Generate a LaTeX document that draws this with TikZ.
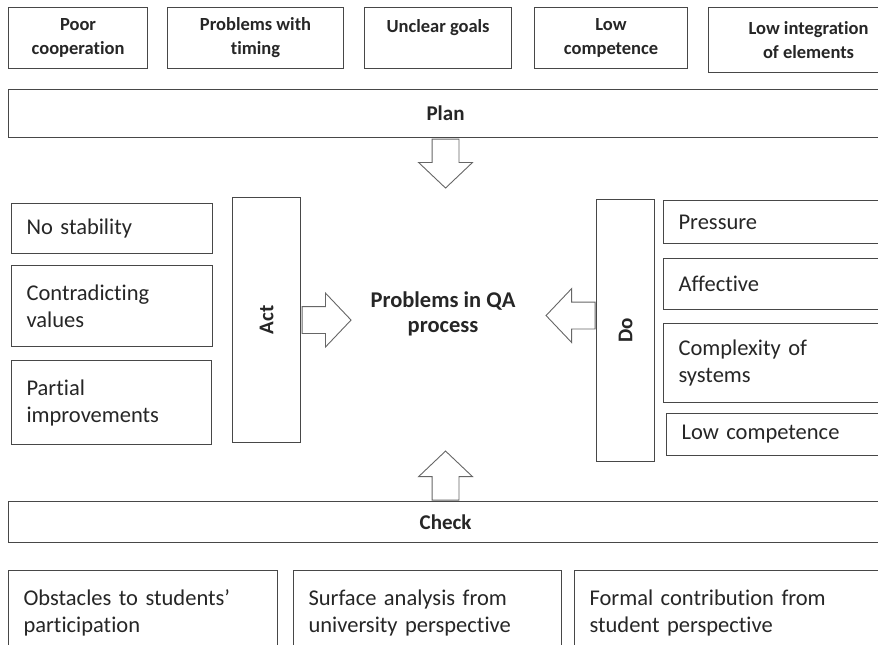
\documentclass[tikz,border=0pt]{standalone}
\usepackage{fontspec}
\setmainfont{Carlito}[Ligatures=NoCommon]
\usetikzlibrary{shapes.arrows}

\tikzset{
  boxline/.style={draw=black!72, line width=1.1pt, fill=white, text=black!85, inner sep=0pt, anchor=north west},
  cause/.style={boxline, align=center, minimum height=61, font=\fontsize{18.5}{24}\selectfont\bfseries},
  phase/.style={boxline, font=\fontsize{21}{25}\selectfont\bfseries},
  issue/.style 2 args={boxline, align=left, text width=#1, minimum height=#2, inner xsep=15pt, font=\fontsize{22.5}{27}\selectfont},
  blockarrow/.style={single arrow, draw=black!60, line width=0.9pt, fill=white, inner sep=13pt,
    single arrow head extend=13.5pt, single arrow tip angle=93, minimum height=49pt, anchor=tail}
}

\begin{document}
\begin{tikzpicture}[x=1pt,y=-1pt]
\useasboundingbox (0,0) rectangle (878,645);
\clip (0,0) rectangle (878,645);

% causes on top
\node[cause, minimum width=139] (poor) at (8,7) {Poor\\cooperation};
\node[cause, minimum width=176] (timing) at (167,7) {Problems with\\timing};
\node[cause, minimum width=147] (goals) at (364,7) {Unclear goals\\\mbox{}};
\node[cause, minimum width=153] (lowcomp) at (534,7) {Low\\competence};
\node[cause, minimum width=200, minimum height=65] (integr) at (708,7) {Low integration\\of elements};

% PDCA phases
\node[phase, minimum width=874, minimum height=48] (plan) at (8,89) {Plan};
\node[phase, minimum width=68, minimum height=245] (act) at (232,197) {\rotatebox{90}{Act}};
\node[phase, minimum width=58, minimum height=262] (do) at (596,199) {\rotatebox{90}{Do}};
\node[phase, minimum width=874, minimum height=41] (check) at (8,501) {Check};

% centre
\node[font=\fontsize{22.5}{25}\selectfont\bfseries, align=center, text=black!85] (qa) at (443,314) {Problems in QA\\process};

% Act side
\node[issue={171}{50}] (stab) at (11,203) {No stability};
\node[issue={171}{81}] (values) at (11,265) {Contradicting\\values};
\node[issue={170}{84}] (partial) at (11,360) {Partial\\improvements};

% Do side
\node[issue={210}{43}] (press) at (663,200) {Pressure};
\node[issue={210}{51}] (affect) at (663,258) {Affective};
\node[issue={210}{79}] (complex) at (663,323) {Complexity of\\systems};
\node[issue={210}{42}] (docomp) at (666,413) {Low competence};

% Check side
\node[issue={239}{84}] (obst) at (8,570) {Obstacles to students’\\participation};
\node[issue={238}{84}] (surf) at (293,570) {Surface analysis from\\university perspective};
\node[issue={300}{84}] (formal) at (574,570) {Formal contribution from\\student perspective};

% block arrows
\node[blockarrow, shape border rotate=270] (planArrow) at ([yshift=-0.5pt]plan.south) {};
\node[blockarrow] (actArrow) at ([xshift=0.5pt]act.east) {};
\node[blockarrow, shape border rotate=180] (doArrow) at ([xshift=-0.5pt,yshift=15pt]do.west) {};
\node[blockarrow, shape border rotate=90] (checkArrow) at ([yshift=0.5pt]check.north) {};
\end{tikzpicture}
\end{document}
